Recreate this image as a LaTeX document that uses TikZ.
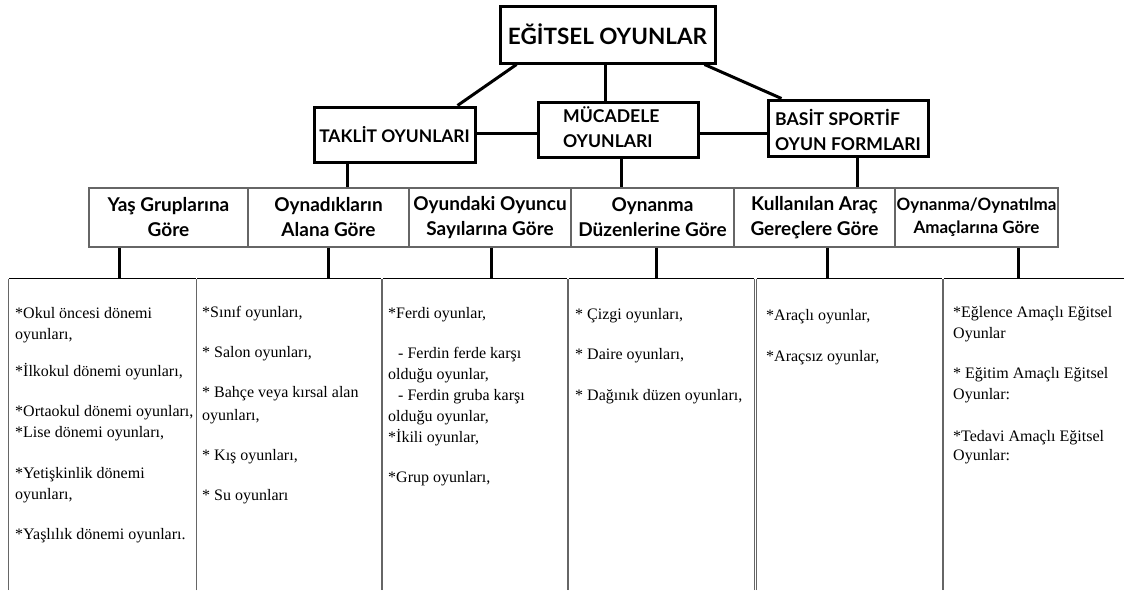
\documentclass[tikz,border=0pt]{standalone}
\usepackage{fontspec}
\setmainfont{Liberation Serif}
\newfontfamily\hdfont{Lato}[BoldFont={Lato Bold}]
\begin{document}
\begin{tikzpicture}[x=1pt,y=-1pt,
  hbox/.style={draw=black, line width=3pt, inner sep=0pt},
  htext/.style={inner sep=0pt, align=left, font=\hdfont\bfseries\fontsize{17.6}{25}\selectfont},
  conn/.style={line width=3pt, draw=black},
  cat/.style={draw=black!60, line width=1.3pt, inner sep=0pt, minimum height=59, align=center,
     font=\hdfont\bfseries\fontsize{19}{25}\selectfont},
  bbox/.style={inner sep=0pt, minimum height=311},
  btop/.style={line width=1.2pt, draw=black},
  bside/.style={line width=1.3pt, draw=black!60},
  btext/.style={inner sep=0pt, anchor=base west, font=\fontsize{16}{21}\selectfont}]
\useasboundingbox (0,0) rectangle (1124,590);

% top level
\node[hbox, minimum width=215, minimum height=57, font=\hdfont\bfseries\fontsize{22.5}{30}\selectfont] (top) at (607.5,34.5) {EĞİTSEL OYUNLAR};
\node[hbox, minimum width=161, minimum height=55, font=\hdfont\bfseries\fontsize{17.4}{25}\selectfont] (tak) at (394.5,134.5) {TAKLİT OYUNLARI};
\node[hbox, minimum width=160, minimum height=55] (muc) at (618,129.5) {};
\node[htext, anchor=west] (muct) at (563,127) {MÜCADELE\\OYUNLARI};
\node[hbox, minimum width=160, minimum height=56] (bas) at (848,128) {};
\node[htext, anchor=west] (bast) at (775,130) {BASİT SPORTİF\\OYUN FORMLARI};

\draw[conn] ([xshift=18pt]top.south west) -- ([xshift=-19pt]tak.north east);
\draw[conn] ([xshift=-2.5pt]top.south) -- ([xshift=-13pt]muc.north);
\draw[conn] ([xshift=-12pt]top.south east) -- ([xshift=15pt]bas.north west);
\draw[conn] ([yshift=1.5pt]tak.east) -- ([yshift=-3.5pt]muc.west);
\draw[conn] ([yshift=-3.5pt]muc.east) -- ([yshift=-5pt]bas.west);

% second row
\node[cat, minimum width=159] (r1) at (168.5,217.5) {Yaş Gruplarına\\Göre};
\node[cat, minimum width=161] (r2) at (328.5,217.5) {Oynadıkların\\Alana Göre};
\node[cat, minimum width=162] (r3) at (490,217.5) {Oyundaki Oyuncu\\Sayılarına Göre};
\node[cat, minimum width=163] (r4) at (652.5,217.5) {Oynanma\\Düzenlerine Göre};
\node[cat, minimum width=161] (r5) at (814.5,217.5) {Kullanılan Araç\\Gereçlere Göre};
\node[cat, minimum width=163, font=\hdfont\bfseries\fontsize{17}{23}\selectfont] (r6) at (976.5,217.5) {Oynanma/Oynatılma\\Amaçlarına Göre};

\draw[conn] ([xshift=-47.5pt]tak.south) -- ([xshift=18.5pt]r2.north);
\draw[conn] ([xshift=3pt]muc.south) -- ([xshift=-31.5pt]r4.north);
\draw[conn] ([xshift=9pt]bas.south) -- ([xshift=42.5pt]r5.north);

% bottom boxes
\node[bbox, minimum width=187] (b1) at (102.5,434.5) {};
\node[bbox, minimum width=184] (b2) at (289,434.5) {};
\node[bbox, minimum width=184] (b3) at (475,434.5) {};
\node[bbox, minimum width=185] (b4) at (661.5,434.5) {};
\node[bbox, minimum width=185] (b5) at (849.5,434.5) {};
\node[bbox, minimum width=186] (b6) at (1037,434.5) {};
\foreach \b in {b1,b2,b3,b4,b5,b6}{
  \draw[bside] (\b.south west) -- (\b.north west);
  \draw[bside] (\b.south east) -- (\b.north east);
  \draw[btop] (\b.north west) -- (\b.north east);
}

\draw[conn] ([xshift=-49.5pt]r1.south) -- ([xshift=16.5pt]b1.north);
\draw[conn] ([xshift=-0.5pt]r2.south) -- ([xshift=39pt]b2.north);
\draw[conn] ([xshift=1pt]r3.south) -- ([xshift=16pt]b3.north);
\draw[conn] ([xshift=3.5pt]r4.south) -- ([xshift=-5.5pt]b4.north);
\draw[conn] ([xshift=12.5pt]r5.south) -- ([xshift=-22.5pt]b5.north);
\draw[conn] ([xshift=41.5pt]r6.south) -- ([xshift=-19pt]b6.north);

% bottom texts
\node[btext] (t1) at (15,318) {\parbox[t]{200pt}{\raggedright
*Okul öncesi dönemi\\oyunları,\\[16pt]
*İlkokul dönemi oyunları,\\[19pt]
*Ortaokul dönemi oyunları,\\{}*Lise dönemi oyunları,\\[20pt]
*Yetişkinlik dönemi\\oyunları,\\[19pt]
*Yaşlılık dönemi oyunları.}};
\node[btext] (t2) at (202,317) {\parbox[t]{200pt}{\raggedright
*Sınıf oyunları,\\[19pt]
* Salon oyunları,\\[19pt]
* Bahçe veya kırsal alan\\[2pt]oyunları,\\[19pt]
* Kış oyunları,\\[19pt]
* Su oyunları}};
\node[btext] (t3) at (388,318) {\parbox[t]{200pt}{\raggedright
*Ferdi oyunlar,\\[19pt]
\hspace*{10pt}- Ferdin ferde karşı\\olduğu oyunlar,\\
\hspace*{10pt}- Ferdin gruba karşı\\olduğu oyunlar,\\{}*İkili oyunlar,\\[19pt]
*Grup oyunları,}};
\node[btext] (t4) at (575,319) {\parbox[t]{200pt}{\raggedright
* Çizgi oyunları,\\[19pt]
* Daire oyunları,\\[20pt]
* Dağınık düzen oyunları,}};
\node[btext] (t5) at (766,320) {\parbox[t]{200pt}{\raggedright
*Araçlı oyunlar,\\[20pt]
*Araçsız oyunlar,}};
\node[btext] (t6) at (953,317) {\parbox[t]{200pt}{\raggedright
*Eğlence Amaçlı Eğitsel\\Oyunlar\\[19pt]
* Eğitim Amaçlı Eğitsel\\Oyunlar:\\[21pt]
*Tedavi Amaçlı Eğitsel\\[-2pt]Oyunlar:}};
\end{tikzpicture}
\end{document}
